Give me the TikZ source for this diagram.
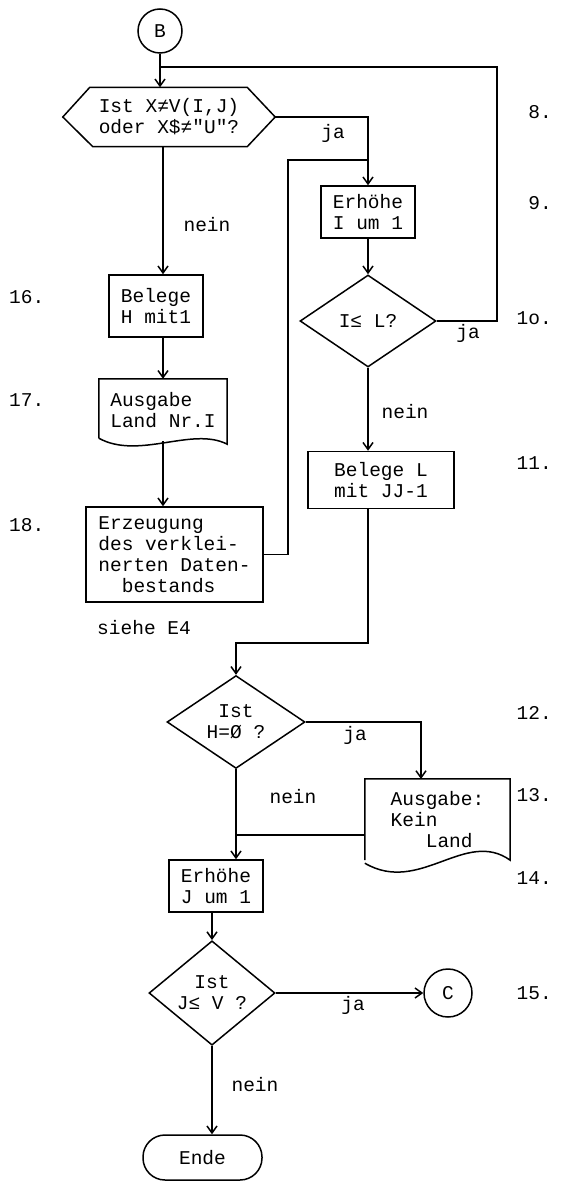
\documentclass[tikz,border=0pt]{standalone}
\usepackage{fontspec}
\setmonofont{Liberation Mono}
\usetikzlibrary{shapes.geometric,arrows.meta,calc}
\begin{document}
\begin{tikzpicture}[x=1pt,y=-1pt,
  every node/.style={font=\ttfamily\fontsize{19.5}{21}\selectfont, inner sep=0pt},
  line/.style={line width=1.5pt},
  arr/.style={line width=1.5pt,-{Straight Barb[length=7pt,width=10pt]}},
  boxnode/.style={draw,line width=1.5pt,rectangle,align=left},
  dia/.style={draw,line width=1.5pt,diamond,align=center,inner sep=0pt},
  conn/.style={draw,line width=1.5pt,circle,inner sep=0pt,minimum size=44pt},
  num/.style={anchor=east},
  lnum/.style={anchor=west}]
\useasboundingbox (0,0) rectangle (560,1185);

% nodes
\node[conn] (B) at (160,31) {B};
\node[align=left, minimum width=212pt, minimum height=59pt] (hex) at (169,117) {Ist X≠V(I,J)\\oder X\$≠"U"?};
\draw[line] (hex.west) -- ($(hex.north west)+(27,0)$) -- ($(hex.north east)+(-28,0)$) -- (hex.east)
  -- ($(hex.south east)+(-28,0)$) -- ($(hex.south west)+(30,0)$) -- cycle;

\node[boxnode, align=center, minimum width=94pt, minimum height=52pt] (EI) at (368,212) {Erhöhe\\I um 1};
\node[dia, minimum width=136pt, minimum height=92pt] (IL) at (368,321) {I≤ L?};
\node[boxnode, minimum width=146pt, minimum height=57pt] (BL) at (381,480) {Belege L\\mit JJ-1};
\node[dia, minimum width=138pt, minimum height=91pt] (IH) at (236,722) {Ist\\H=Ø ?};
\node[align=left, minimum width=145pt, minimum height=81pt] (AK) at (437.5,819.5) {Ausgabe:\\Kein\\\phantom{Kei}Land};
\draw[line] (AK.south west) -- (AK.north west) -- (AK.north east) -- (AK.south east)
  .. controls +(-45,-32) and +(55,32) .. ($(AK.south west)+(0,3)$);
\node[boxnode, align=center, minimum width=94pt, minimum height=52pt] (EJ) at (216,886) {Erhöhe\\J um 1};
\node[dia, minimum width=126pt, minimum height=90pt] (IJ) at (212,993) {Ist\\J≤ V ?};
\node[conn, minimum size=48pt] (C) at (448,993) {C};
\node[draw, line width=1.5pt, rounded corners=22pt, minimum width=119pt, minimum height=45pt] (E) at (202.5,1157.5) {Ende};

\node[boxnode, minimum width=94pt, minimum height=62pt] (BH) at (156,306) {Belege\\H mit1};
\node[align=left, minimum width=128pt, minimum height=62pt] (AL) at (163,410) {Ausgabe\\Land Nr.I};
\draw[line] ($(AL.south west)+(0,-3)$) -- (AL.north west) -- (AL.north east) -- ($(AL.south east)+(0,3)$)
  .. controls +(-35,-18) and +(40,22) .. ($(AL.south west)+(0,-3)$);
\node[boxnode, minimum width=177pt, minimum height=95pt] (EZ) at (174.5,554.5) {Erzeugung\\des verklei-\\nerten Daten-\\\phantom{ne}bestands};

% connectors
\coordinate (j1) at (160,67);
\coordinate (r1) at (497,67);
\draw[arr] (B) -- (B |- hex.north);
\draw[line] (IL.east) -| (r1) -- (j1);
\draw[arr] (hex.east) -| (EI.north);
\coordinate (k1) at (288,160);
\coordinate (j2) at (368,160);
\draw[line] (EZ.east) -| (k1) -- (j2);
\draw[arr] (EI) -- (IL);
\draw[arr] (IL) -- (IL |- BL.north);
\coordinate (c1) at (368,643);
\draw[arr] (IL |- BL.south) -- (c1) -| (IH.north);
\coordinate (akin) at (421,779);
\draw[arr] (IH.east) -| (akin);
\draw[arr] (IH) -- (IH |- EJ.north);
\coordinate (m1) at (365,835);
\draw[line] (m1) -- (m1 -| IH);
\draw[arr] (EJ.south -| IJ) -- (IJ);
\draw[arr] (IJ.east) -- (C.west);
\draw[arr] (IJ) -- (IJ |- E.north);
\draw[arr] (hex.south -| AL) -- (BH.north -| AL);
\draw[arr] (BH.south -| AL) -- (AL);
\draw[arr] (AL.south) -- (EZ.north -| AL);

% labels
\node (l1) at (333,133) {ja};
\node (l2) at (468,333) {ja};
\node (l3) at (405,412) {nein};
\node (l4) at (355,735) {ja};
\node (l5) at (293,797) {nein};
\node (l6) at (353,1005) {ja};
\node (l7) at (255,1085) {nein};
\node (l8) at (207,225) {nein};
\node[anchor=west] (l9) at (97,628) {siehe E4};

% numbers
\node[num] at (552,112) {8.};
\node[num] at (552,203) {9.};
\node[num] at (552,318) {1o.};
\node[num] at (552,463) {11.};
\node[num] at (552,713) {12.};
\node[num] at (552,795) {13.};
\node[num] at (552,878) {14.};
\node[num] at (552,993) {15.};
\node[lnum] at (9,297) {16.};
\node[lnum] at (9,400) {17.};
\node[lnum] at (9,525) {18.};
\end{tikzpicture}
\end{document}
